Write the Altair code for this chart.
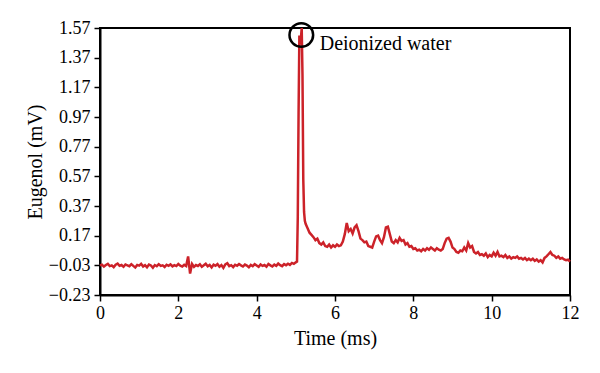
import altair as alt
import numpy as np
import pandas as pd

# Baseline segment: t = 0.00 .. 5.00 ms, step 0.05
base_v = [
    -0.030, -0.025, -0.038, -0.028, -0.020, -0.035, -0.030, -0.042, -0.026, -0.018,
    -0.033, -0.028, -0.040, -0.024, -0.030, -0.036, -0.022, -0.034, -0.045, -0.027,
    -0.032, -0.020, -0.038, -0.029, -0.043, -0.025, -0.031, -0.046, -0.028, -0.036,
    -0.022, -0.034, -0.030, -0.041, -0.026, -0.033, -0.024, -0.037, -0.029, -0.035,
    -0.021, -0.032, -0.038, -0.027, -0.035, 0.030, -0.085, -0.020, -0.040, -0.028,
    -0.034, -0.023, -0.040, -0.030, -0.019, -0.036, -0.027, -0.044, -0.025, -0.033,
    -0.022, -0.039, -0.028, -0.047, -0.024, -0.016, -0.035, -0.029, -0.042, -0.026,
    -0.033, -0.021, -0.030, -0.038, -0.025, -0.032, -0.043, -0.027, -0.036, -0.022,
    -0.031, -0.040, -0.024, -0.034, -0.028, -0.039, -0.021, -0.030, -0.037, -0.025,
    -0.033, -0.018, -0.029, -0.036, -0.022, -0.030, -0.019, -0.027, -0.014, -0.020,
    -0.010,
]

# Peak segment
peak_t = [5.03, 5.05, 5.07, 5.09, 5.11, 5.13, 5.15, 5.17, 5.19, 5.21, 5.23]
peak_v = [-0.005, 0.30, 1.00, 1.52, 1.46, 1.50, 1.57, 1.25, 0.55, 0.33, 0.27]

# Tail segment: t = 5.25 .. 12.00 ms, step 0.05
tail_v = [
    0.25, 0.22, 0.19, 0.175, 0.16, 0.14, 0.15, 0.12, 0.11, 0.125,
    0.10, 0.095, 0.11, 0.09, 0.105, 0.095, 0.11, 0.10, 0.105, 0.13,
    0.18, 0.255, 0.20, 0.215, 0.185, 0.225, 0.24, 0.20, 0.15, 0.14,
    0.125, 0.13, 0.10, 0.095, 0.09, 0.13, 0.165, 0.17, 0.14, 0.12,
    0.16, 0.225, 0.23, 0.18, 0.13, 0.12, 0.14, 0.125, 0.155, 0.135,
    0.14, 0.11, 0.12, 0.095, 0.10, 0.08, 0.085, 0.07, 0.075, 0.065,
    0.08, 0.07, 0.085, 0.075, 0.09, 0.08, 0.07, 0.085, 0.075, 0.07,
    0.08, 0.12, 0.15, 0.155, 0.13, 0.09, 0.08, 0.06, 0.055, 0.07,
    0.065, 0.09, 0.07, 0.12, 0.09, 0.10, 0.06, 0.05, 0.06, 0.04,
    0.045, 0.035, 0.05, 0.025, 0.04, 0.03, 0.055, 0.035, 0.06, 0.03,
    0.035, 0.025, 0.04, 0.02, 0.03, 0.015, 0.025, 0.02, 0.03, 0.015,
    0.02, 0.01, 0.02, 0.005, 0.015, 0.005, 0.015, 0.0, 0.01, -0.005,
    0.005, -0.01, 0.02, 0.03, 0.045, 0.06, 0.04, 0.035, 0.02, 0.03,
    0.015, 0.02, 0.01, 0.005, 0.008, -0.005,
]

y_ticks = [-0.23, -0.03, 0.17, 0.37, 0.57, 0.77, 0.97, 1.17, 1.37, 1.57]
x_ticks = [0, 2, 4, 6, 8, 10, 12]

base_t = list(np.round(np.arange(len(base_v)) * 0.05, 2))
tail_t = list(np.round(5.25 + np.arange(len(tail_v)) * 0.05, 2))

df = pd.DataFrame({
    "t": base_t + peak_t + tail_t,
    "v": base_v + peak_v + tail_v,
})

note_df = pd.DataFrame({"t": [5.14], "v": [1.523], "label": ["Deionized water"],
                        "tl": [5.61], "vl": [1.42]})

FONT = "Liberation Serif"

x_enc = alt.X("t:Q", scale=alt.Scale(domain=[0, 12], nice=False, zero=False),
              axis=alt.Axis(values=x_ticks, format="d", title="Time (ms)",
                            labelOverlap=False, labelFlush=False))
y_enc = alt.Y("v:Q", scale=alt.Scale(domain=[-0.23, 1.57], nice=False, zero=False),
              axis=alt.Axis(values=y_ticks, format=".2f", title="Eugenol (mV)",
                            labelOverlap=False, labelFlush=False, tickCount=10,
                            labelSeparation=0))

line = alt.Chart(df).mark_line(color="#cc2229", strokeWidth=2.5).encode(x=x_enc, y=y_enc)

circle = alt.Chart(note_df).mark_point(shape="circle", size=560, filled=False,
                                       stroke="black", strokeWidth=2.5, opacity=1).encode(
    x="t:Q", y="v:Q")

text = alt.Chart(note_df).mark_text(align="left", baseline="alphabetic", font=FONT,
                                    fontSize=20, color="black").encode(
    x="tl:Q", y="vl:Q", text="label:N")

chart = alt.layer(line, circle, text).properties(
    width=470, height=267,
    autosize=alt.AutoSizeParams(type="none"),
    padding={"left": 92, "top": 20, "right": 22, "bottom": 70},
).configure_view(
    stroke="black", strokeWidth=2,
).configure_axis(
    grid=False,
    domainColor="black", domainWidth=2,
    tickColor="black", tickWidth=1.5, tickSize=6,
    labelFont=FONT, labelFontSize=18, labelColor="black",
    titleFont=FONT, titleFontSize=20, titleFontWeight="normal", titleColor="black",
).configure_axisX(
    labelPadding=3, titlePadding=6,
).configure_axisY(
    labelPadding=4, titlePadding=3,
)

chart.save("out.html", embed_options={"renderer": "svg", "actions": False})
